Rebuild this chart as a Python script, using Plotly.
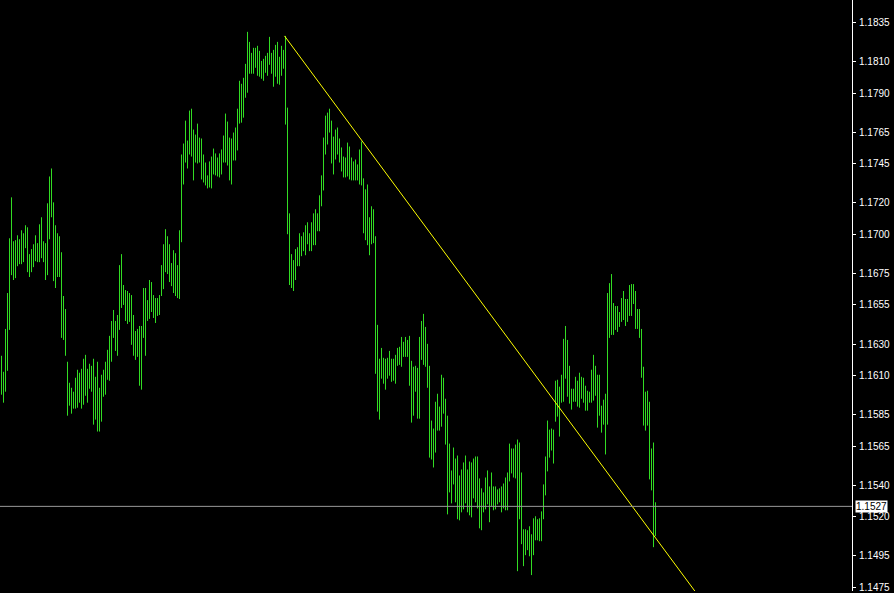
import plotly.graph_objects as go

# ---- data (bar highs / lows) ----
highs = [
    1.16226, 1.16124, 1.16397, 1.16626, 1.16975, 1.17236, 1.16956, 1.16963, 1.16994, 1.16969,
    1.17026, 1.17007, 1.17058, 1.17045, 1.16874, 1.16906, 1.16937, 1.16994, 1.16944, 1.17064,
    1.17109, 1.16956, 1.16944, 1.17198, 1.17369, 1.17420, 1.17204, 1.17058, 1.17007, 1.16988,
    1.16886, 1.16607, 1.16524, 1.16188, 1.16054, 1.16022, 1.15997, 1.16086, 1.16137, 1.16118,
    1.16143, 1.16207, 1.16232, 1.16143, 1.16175, 1.16162, 1.16207, 1.16092, 1.16188, 1.16022,
    1.16105, 1.16137, 1.16188, 1.16264, 1.16353, 1.16448, 1.16518, 1.16448, 1.16486, 1.16804,
    1.16874, 1.16677, 1.16645, 1.16639, 1.16626, 1.16613, 1.16486, 1.16384, 1.16397, 1.16416,
    1.16416, 1.16658, 1.16658, 1.16581, 1.16709, 1.16696, 1.16613, 1.16594, 1.16594, 1.16613,
    1.16804, 1.16937, 1.17033, 1.16988, 1.16937, 1.16817, 1.16899, 1.16880, 1.16804, 1.17026,
    1.17509, 1.17579, 1.17725, 1.17598, 1.17789, 1.17801, 1.17668, 1.17636, 1.17706, 1.17617,
    1.17611, 1.17509, 1.17458, 1.17376, 1.17465, 1.17496, 1.17547, 1.17516, 1.17490, 1.17516,
    1.17541, 1.17630, 1.17770, 1.17719, 1.17617, 1.17611, 1.17649, 1.17681, 1.17801, 1.17979,
    1.17960, 1.17998, 1.18087, 1.18291, 1.18227, 1.18157, 1.18189, 1.18189, 1.18202, 1.18170,
    1.18106, 1.18119, 1.18138, 1.18157, 1.18259, 1.18157, 1.18176, 1.18208, 1.18227, 1.18132,
    1.18202, 1.18176, 1.18265, 1.17808, 1.17134, 1.16874, 1.16836, 1.16906, 1.16918, 1.17007,
    1.16988, 1.17013, 1.17058, 1.17077, 1.17007, 1.17077, 1.17134, 1.17160, 1.17134, 1.17249,
    1.17376, 1.17617, 1.17757, 1.17776, 1.17801, 1.17725, 1.17623, 1.17668, 1.17681, 1.17611,
    1.17554, 1.17496, 1.17490, 1.17585, 1.17560, 1.17490, 1.17465, 1.17477, 1.17446, 1.17541,
    1.17592, 1.17357, 1.17287, 1.17318, 1.17109, 1.17179, 1.17160, 1.16988, 1.16423, 1.16207,
    1.16276, 1.16213, 1.16207, 1.16213, 1.16257, 1.16207, 1.16207, 1.16232, 1.16276, 1.16283,
    1.16346, 1.16315, 1.16346, 1.16327, 1.16353, 1.16194, 1.16156, 1.16162, 1.16149, 1.16346,
    1.16448, 1.16493, 1.16410, 1.16302, 1.16162, 1.15813, 1.15762, 1.15933, 1.15984, 1.15902,
    1.16105, 1.16086, 1.15952, 1.15844, 1.15666, 1.15495, 1.15641, 1.15571, 1.15590, 1.15463,
    1.15501, 1.15546, 1.15590, 1.15501, 1.15552, 1.15546, 1.15571, 1.15584, 1.15584, 1.15444,
    1.15381, 1.15355, 1.15450, 1.15495, 1.15393, 1.15482, 1.15393, 1.15393, 1.15374, 1.15381,
    1.15393, 1.15412, 1.15450, 1.15482, 1.15666, 1.15635, 1.15635, 1.15660, 1.15692, 1.15673,
    1.15482, 1.15120, 1.15120, 1.15114, 1.15139, 1.15088, 1.15190, 1.15203, 1.15184, 1.15190,
    1.15234, 1.15406, 1.15584, 1.15813, 1.15755, 1.15762, 1.15755, 1.16067, 1.16073, 1.16029,
    1.16105, 1.16334, 1.16416, 1.16327, 1.16162, 1.16016, 1.16016, 1.16092, 1.16067, 1.16118,
    1.16092, 1.16086, 1.16035, 1.16003, 1.15997, 1.16137, 1.16232, 1.16162, 1.16105, 1.16105,
    1.15908, 1.15946, 1.15984, 1.16626, 1.16689, 1.16747, 1.16562, 1.16543, 1.16543, 1.16505,
    1.16594, 1.16639, 1.16588, 1.16588, 1.16677, 1.16683, 1.16683, 1.16639, 1.16524, 1.16524,
    1.16397, 1.16156, 1.15997, 1.16003, 1.15933, 1.15635, 1.15673, 1.15292,
]

lows = [
    1.15978, 1.15927, 1.15997, 1.16130, 1.16391, 1.16740, 1.16709, 1.16721, 1.16797, 1.16810,
    1.16810, 1.16823, 1.16912, 1.16759, 1.16728, 1.16759, 1.16791, 1.16829, 1.16823, 1.16823,
    1.16848, 1.16823, 1.16709, 1.16740, 1.16969, 1.17109, 1.16702, 1.16658, 1.16728, 1.16728,
    1.16340, 1.16327, 1.16226, 1.15844, 1.15908, 1.15857, 1.15889, 1.15889, 1.15895, 1.15927,
    1.15889, 1.15914, 1.15971, 1.15927, 1.16016, 1.15997, 1.15787, 1.15819, 1.15743, 1.15743,
    1.15806, 1.15965, 1.15978, 1.16073, 1.16067, 1.16188, 1.16340, 1.16257, 1.16226, 1.16391,
    1.16531, 1.16550, 1.16448, 1.16429, 1.16442, 1.16296, 1.16226, 1.16200, 1.16219, 1.16035,
    1.16010, 1.16340, 1.16226, 1.16448, 1.16461, 1.16505, 1.16467, 1.16435, 1.16480, 1.16486,
    1.16607, 1.16651, 1.16759, 1.16747, 1.16696, 1.16670, 1.16626, 1.16607, 1.16594, 1.16588,
    1.16950, 1.17318, 1.17458, 1.17420, 1.17509, 1.17496, 1.17344, 1.17458, 1.17452, 1.17458,
    1.17350, 1.17331, 1.17312, 1.17293, 1.17299, 1.17293, 1.17382, 1.17376, 1.17369, 1.17363,
    1.17382, 1.17458, 1.17458, 1.17439, 1.17344, 1.17318, 1.17471, 1.17471, 1.17535, 1.17706,
    1.17712, 1.17744, 1.17871, 1.17903, 1.18024, 1.18024, 1.18024, 1.18062, 1.18011, 1.18005,
    1.17992, 1.17979, 1.18030, 1.18011, 1.18081, 1.18024, 1.17941, 1.18005, 1.17960, 1.17954,
    1.18011, 1.18056, 1.17700, 1.17001, 1.16677, 1.16658, 1.16639, 1.16709, 1.16797, 1.16797,
    1.16861, 1.16893, 1.16867, 1.16937, 1.16893, 1.16893, 1.16931, 1.16931, 1.17020, 1.17020,
    1.17179, 1.17280, 1.17509, 1.17573, 1.17649, 1.17452, 1.17382, 1.17477, 1.17509, 1.17458,
    1.17401, 1.17363, 1.17363, 1.17369, 1.17350, 1.17344, 1.17344, 1.17344, 1.17344, 1.17318,
    1.17312, 1.17007, 1.16963, 1.16931, 1.16867, 1.16937, 1.16944, 1.16111, 1.15870, 1.15819,
    1.16080, 1.16048, 1.16010, 1.16080, 1.16099, 1.16060, 1.16067, 1.16048, 1.16162, 1.16168,
    1.16156, 1.16219, 1.16219, 1.16219, 1.16035, 1.15800, 1.15844, 1.15997, 1.15825, 1.15825,
    1.16200, 1.16168, 1.16156, 1.16022, 1.15577, 1.15565, 1.15514, 1.15609, 1.15749, 1.15749,
    1.15774, 1.15857, 1.15660, 1.15215, 1.15355, 1.15285, 1.15406, 1.15292, 1.15184, 1.15177,
    1.15228, 1.15247, 1.15285, 1.15228, 1.15209, 1.15196, 1.15317, 1.15292, 1.15253, 1.15126,
    1.15114, 1.15228, 1.15247, 1.15279, 1.15165, 1.15266, 1.15241, 1.15247, 1.15279, 1.15292,
    1.15228, 1.15253, 1.15241, 1.15241, 1.15425, 1.15476, 1.15450, 1.15444, 1.14853, 1.15184,
    1.15025, 1.14885, 1.14955, 1.14987, 1.14948, 1.14828, 1.14955, 1.15050, 1.15050, 1.15044,
    1.15044, 1.15184, 1.15336, 1.15489, 1.15577, 1.15622, 1.15539, 1.15806, 1.15838, 1.15711,
    1.15927, 1.15933, 1.16080, 1.15965, 1.15921, 1.15883, 1.15933, 1.15933, 1.15902, 1.15895,
    1.15952, 1.15927, 1.15876, 1.15876, 1.15927, 1.15927, 1.15940, 1.15971, 1.15768, 1.15844,
    1.15736, 1.15787, 1.15597, 1.15787, 1.16340, 1.16359, 1.16359, 1.16391, 1.16378, 1.16410,
    1.16442, 1.16454, 1.16416, 1.16442, 1.16480, 1.16480, 1.16556, 1.16397, 1.16397, 1.16340,
    1.16086, 1.15781, 1.15749, 1.15781, 1.15438, 1.15368, 1.15006, 1.15076,
]

# price-axis labels
tick_values = [1.1835, 1.1810, 1.1790, 1.1765, 1.1745, 1.1720, 1.1700, 1.1675,
               1.1655, 1.1630, 1.1610, 1.1585, 1.1565, 1.1540, 1.1520, 1.1495, 1.1475]
tick_labels = ["%.4f" % v for v in tick_values]

# current bid price line (label shows it rounded to 4 decimals)
bid_price = 1.15266
bid_label = "1.1527"

# trendline anchors (bar index, price)
trend_x = [141.5, 334.5]
trend_y = [1.18265, 1.14936]

# visible window
x_range = [-0.75, 425.25]
y_range = [1.147265, 1.18494]

# ---- build figure ----
bx, by = [], []
for i, (h, l) in enumerate(zip(highs, lows)):
    bx += [i, i, None]
    by += [l, h, None]

fig = go.Figure()
fig.add_trace(go.Scatter(x=bx, y=by, mode="lines",
                         line=dict(color="#32DC23", width=1),
                         hoverinfo="skip", showlegend=False))

slope = (trend_y[1] - trend_y[0]) / (trend_x[1] - trend_x[0])
ext_x = trend_x[1] + 20
tx = [trend_x[0], trend_x[1], ext_x]
ty = [trend_y[0], trend_y[1], trend_y[1] + slope * (ext_x - trend_x[1])]

fig.add_shape(type="line", xref="paper", x0=0, x1=1, yref="y",
              y0=bid_price, y1=bid_price,
              line=dict(color="#9a9a9a", width=1), layer="above")

fig.add_trace(go.Scatter(x=tx, y=ty, mode="lines",
                         line=dict(color="#FFFF00", width=1),
                         hoverinfo="skip", showlegend=False))

fig.add_annotation(x=1, xref="paper", y=bid_price, yref="y",
                   text=bid_label, showarrow=False,
                   xanchor="left", xshift=3, yanchor="middle",
                   bgcolor="white", borderpad=0,
                   font=dict(color="black", size=10, family="Liberation Sans"))

fig.update_layout(
    width=894, height=593,
    margin=dict(l=0, r=42, t=0, b=0),
    paper_bgcolor="black", plot_bgcolor="black",
    showlegend=False,
    xaxis=dict(range=x_range, visible=False, showgrid=False, zeroline=False),
    yaxis=dict(range=y_range, side="right", showgrid=False, zeroline=False,
               tickmode="array", tickvals=tick_values, ticktext=tick_labels,
               ticks="outside", ticklen=3, tickcolor="white", tickwidth=1,
               ticklabelstandoff=1, ticklabeloverflow="allow",
               showline=True, linecolor="white", linewidth=1,
               tickfont=dict(color="white", size=10, family="Liberation Sans")),
)

fig.write_html(
    "out.html",
    config={"displayModeBar": False},
    post_script="document.body.style.margin='0';document.body.style.background='black';",
)
